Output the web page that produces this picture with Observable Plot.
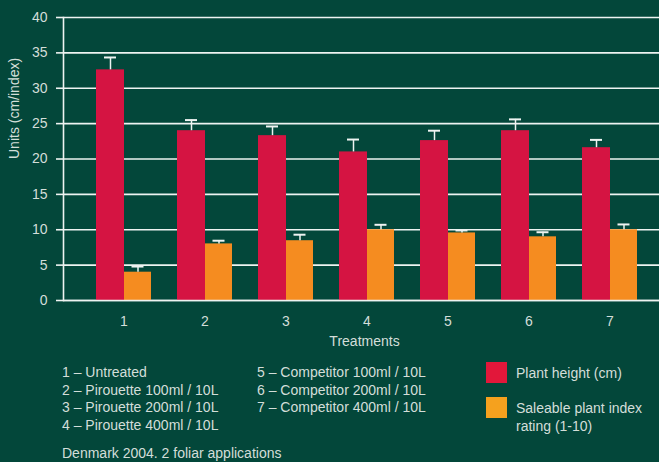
<!DOCTYPE html>
<html>
<head>
<meta charset="utf-8">
<script src="https://cdn.jsdelivr.net/npm/d3@7"></script>
<script src="https://cdn.jsdelivr.net/npm/@observablehq/plot@0.6"></script>
<style>
  html, body { margin: 0; padding: 0; background: #03473A; }
  body { width: 659px; height: 462px; overflow: hidden; font-family: "Liberation Sans", Arial, sans-serif; color: #D3DED9; }
  #chart svg { display: block; }
  #notes { position: relative; height: 107px; font-size: 14px; line-height: 17.5px; }
  .col { position: absolute; white-space: nowrap; }
  #legend { position: absolute; left: 486px; top: 7px; }
  .item { display: flex; align-items: flex-start; margin-bottom: 14px; }
  .sw { width: 21px; height: 21px; margin-right: 9px; flex: none; }
  .lab { line-height: 18px; padding-top: 2px; }
</style>
</head>
<body>
<div id="chart"></div>
<div id="notes"></div>
<script>
// ---- data ----
const treatments = ["1", "2", "3", "4", "5", "6", "7"];
const plantHeight = [32.6, 24.0, 23.3, 21.0, 22.6, 24.0, 21.6];
const plantHeightErr = [1.75, 1.5, 1.3, 1.75, 1.4, 1.6, 1.1];
const saleableIndex = [4.0, 8.0, 8.45, 10.0, 9.55, 9.0, 10.0];
const saleableIndexErr = [0.8, 0.45, 0.85, 0.7, 0.35, 0.65, 0.75];
const yTicks = [0, 5, 10, 15, 20, 25, 30, 35, 40];
const seriesNames = ["Plant height (cm)", "Saleable plant index\nrating (1-10)"];
const barColors = ["#D51442", "#F58C20"];
const legendColors = ["#E2173A", "#F5A11E"];
const treatmentNotes = [
  "1 – Untreated", "2 – Pirouette 100ml / 10L", "3 – Pirouette 200ml / 10L", "4 – Pirouette 400ml / 10L",
  "5 – Competitor 100ml / 10L", "6 – Competitor 200ml / 10L", "7 – Competitor 400ml / 10L"
];
const yLabel = "Units (cm/index)";
const xLabel = "Treatments";
const footnote = "Denmark 2004. 2 foliar applications";

const rows = treatments.map((t, i) => ({
  t, h: plantHeight[i], he: plantHeightErr[i], s: saleableIndex[i], se: saleableIndexErr[i]
}));

const gridColor = "#EEF3F1";
const textColor = "#D3DED9";

const chart = Plot.plot({
  width: 659, height: 355,
  marginLeft: 63, marginRight: 0, marginTop: 17, marginBottom: 55,
  style: { background: "transparent", fontFamily: '"Liberation Sans", Arial, sans-serif', fontSize: "14px", color: textColor, overflow: "visible" },
  x: { type: "band", domain: treatments, paddingInner: 0.327, paddingOuter: 0.312, align: 0.588 },
  y: { domain: [0, 40] },
  marks: [
    Plot.ruleY(yTicks, { stroke: gridColor, strokeWidth: 1.6 }),
    Plot.barY(rows, { x: "t", y: "h", fill: barColors[0], insetRight: 27 }),
    Plot.barY(rows, { x: "t", y: "s", fill: barColors[1], insetLeft: 28 }),
    Plot.ruleX(rows, { x: "t", y1: "h", y2: d => d.h + d.he, dx: -13.5, stroke: gridColor, strokeWidth: 1.5 }),
    Plot.tickY(rows, { x: "t", y: d => d.h + d.he, insetLeft: 8, insetRight: 35, stroke: gridColor, strokeWidth: 2 }),
    Plot.ruleX(rows, { x: "t", y1: "s", y2: d => d.s + d.se, dx: 14, stroke: gridColor, strokeWidth: 1.5 }),
    Plot.tickY(rows, { x: "t", y: d => d.s + d.se, insetLeft: 35.5, insetRight: 7.5, stroke: gridColor, strokeWidth: 2 }),
    Plot.ruleY([0], { stroke: gridColor, strokeWidth: 1.6 }),
    Plot.frame({ anchor: "left", stroke: gridColor, strokeWidth: 1.6 }),
    Plot.axisY({ ticks: yTicks, tickSize: 7, tickPadding: 9, stroke: gridColor, strokeWidth: 1.6, fill: textColor, label: null }),
    Plot.axisX({ tickSize: 0, tickPadding: 16, fill: textColor, label: null }),
    Plot.text([yLabel], { frameAnchor: "left", rotate: -90, dx: -49, fill: textColor }),
    Plot.text([xLabel], { frameAnchor: "bottom", dy: 45, dx: 3, fill: textColor })
  ]
});
document.getElementById("chart").append(chart);

// ---- notes and legend ----
const notes = document.getElementById("notes");
const col1 = document.createElement("div");
col1.className = "col"; col1.style.left = "62px"; col1.style.top = "9px";
col1.innerHTML = treatmentNotes.slice(0, 4).map(s => `<div>${s}</div>`).join("");
const col2 = document.createElement("div");
col2.className = "col"; col2.style.left = "257px"; col2.style.top = "9px";
col2.innerHTML = treatmentNotes.slice(4).map(s => `<div>${s}</div>`).join("");
const foot = document.createElement("div");
foot.className = "col"; foot.style.left = "62px"; foot.style.top = "90px";
foot.textContent = footnote;
const legend = document.createElement("div");
legend.id = "legend";
legend.innerHTML = seriesNames.map((n, i) =>
  `<div class="item"><div class="sw" style="background:${legendColors[i]}"></div><div class="lab">${n.replace("\n", "<br>")}</div></div>`
).join("");
notes.append(col1, col2, foot, legend);
</script>
</body>
</html>
